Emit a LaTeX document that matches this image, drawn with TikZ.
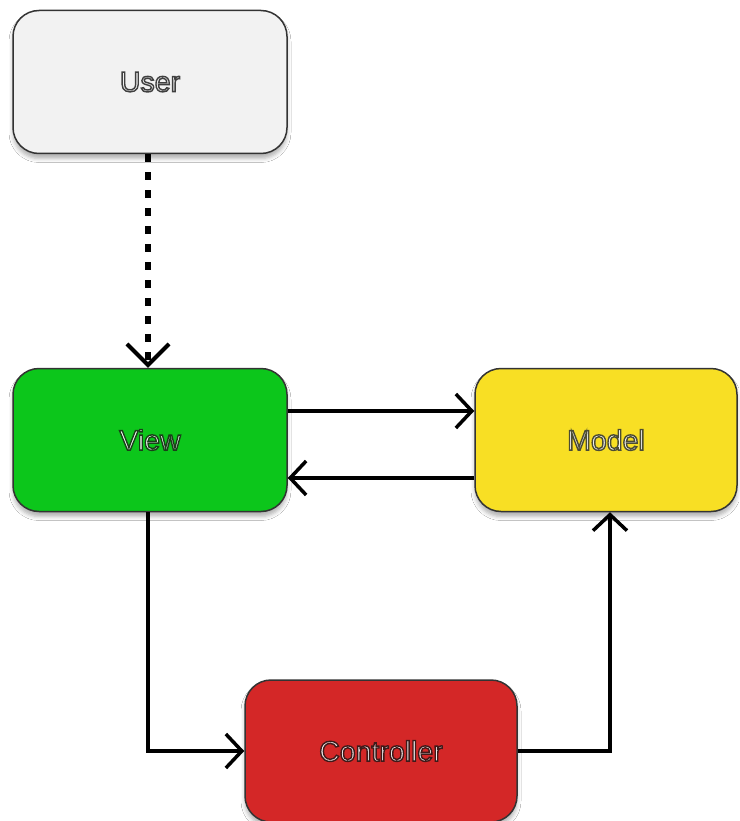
\documentclass[tikz,border=0pt]{standalone}
\usepackage{fontspec}
\setmainfont{Liberation Sans}
\usetikzlibrary{arrows.meta,shadows.blur}

% outlined label text: light fill, dark stroke
\newcommand\outlined[2]{\special{pdf:code 2 Tr 1.4 w #1 RG}#2\special{pdf:code 0 Tr}}

\definecolor{userfill}{HTML}{F2F2F2}
\definecolor{viewfill}{HTML}{0CC61B}
\definecolor{modelfill}{HTML}{F8DF24}
\definecolor{ctrlfill}{HTML}{D42727}

\tikzset{
  block/.style={draw=black!80, line width=1.5pt, rounded corners=26pt,
    minimum width=274pt, minimum height=143pt, font=\fontsize{28.5}{30}\selectfont,
    blur shadow={shadow xshift=0pt, shadow yshift=-5pt, shadow blur radius=4pt,
      shadow opacity=30}},
  link/.style={line width=3.5pt, -{Straight Barb[length=16pt,width=34pt,line width=3.5pt]}},
  dotlink/.style={line width=5.5pt, dash pattern=on 8pt off 10pt,
    -{Straight Barb[length=21pt,width=42pt,line width=4pt]}},
}

\begin{document}
\begin{tikzpicture}[x=1pt,y=-1pt]
  \path[use as bounding box, fill=white] (0,0) rectangle (739,821);

  \node[block, fill=userfill, text=userfill] (user) at (150,82) {\outlined{0.25 0.25 0.25}{User}};
  \node[block, fill=viewfill, text=white] (view) at (150,440) {\outlined{0.1 0.25 0.1}{View}};
  \node[block, fill=modelfill, text=userfill, minimum width=262pt] (model) at (606,440) {\outlined{0.3 0.3 0.2}{Model}};
  \node[block, fill=ctrlfill, text=white!92!black, minimum width=272pt, minimum height=142pt] (ctrl) at (381,751) {\outlined{0.25 0.1 0.1}{Controller}};

  % user input into the view
  \draw[dotlink] ([xshift=-2pt]user.south) -- ([xshift=-2pt]view.north);

  % view <-> model
  \draw[link] ([yshift=29pt]view.east) -- ([yshift=29pt]model.west);
  \draw[link] ([yshift=-38pt]model.west) -- ([yshift=-38pt]view.east);

  % view -> controller -> model
  \draw[link] ([xshift=-2pt]view.south) |- (ctrl.west);
  \draw[link] (ctrl.east) -| ([xshift=4pt]model.south);
\end{tikzpicture}
\end{document}
